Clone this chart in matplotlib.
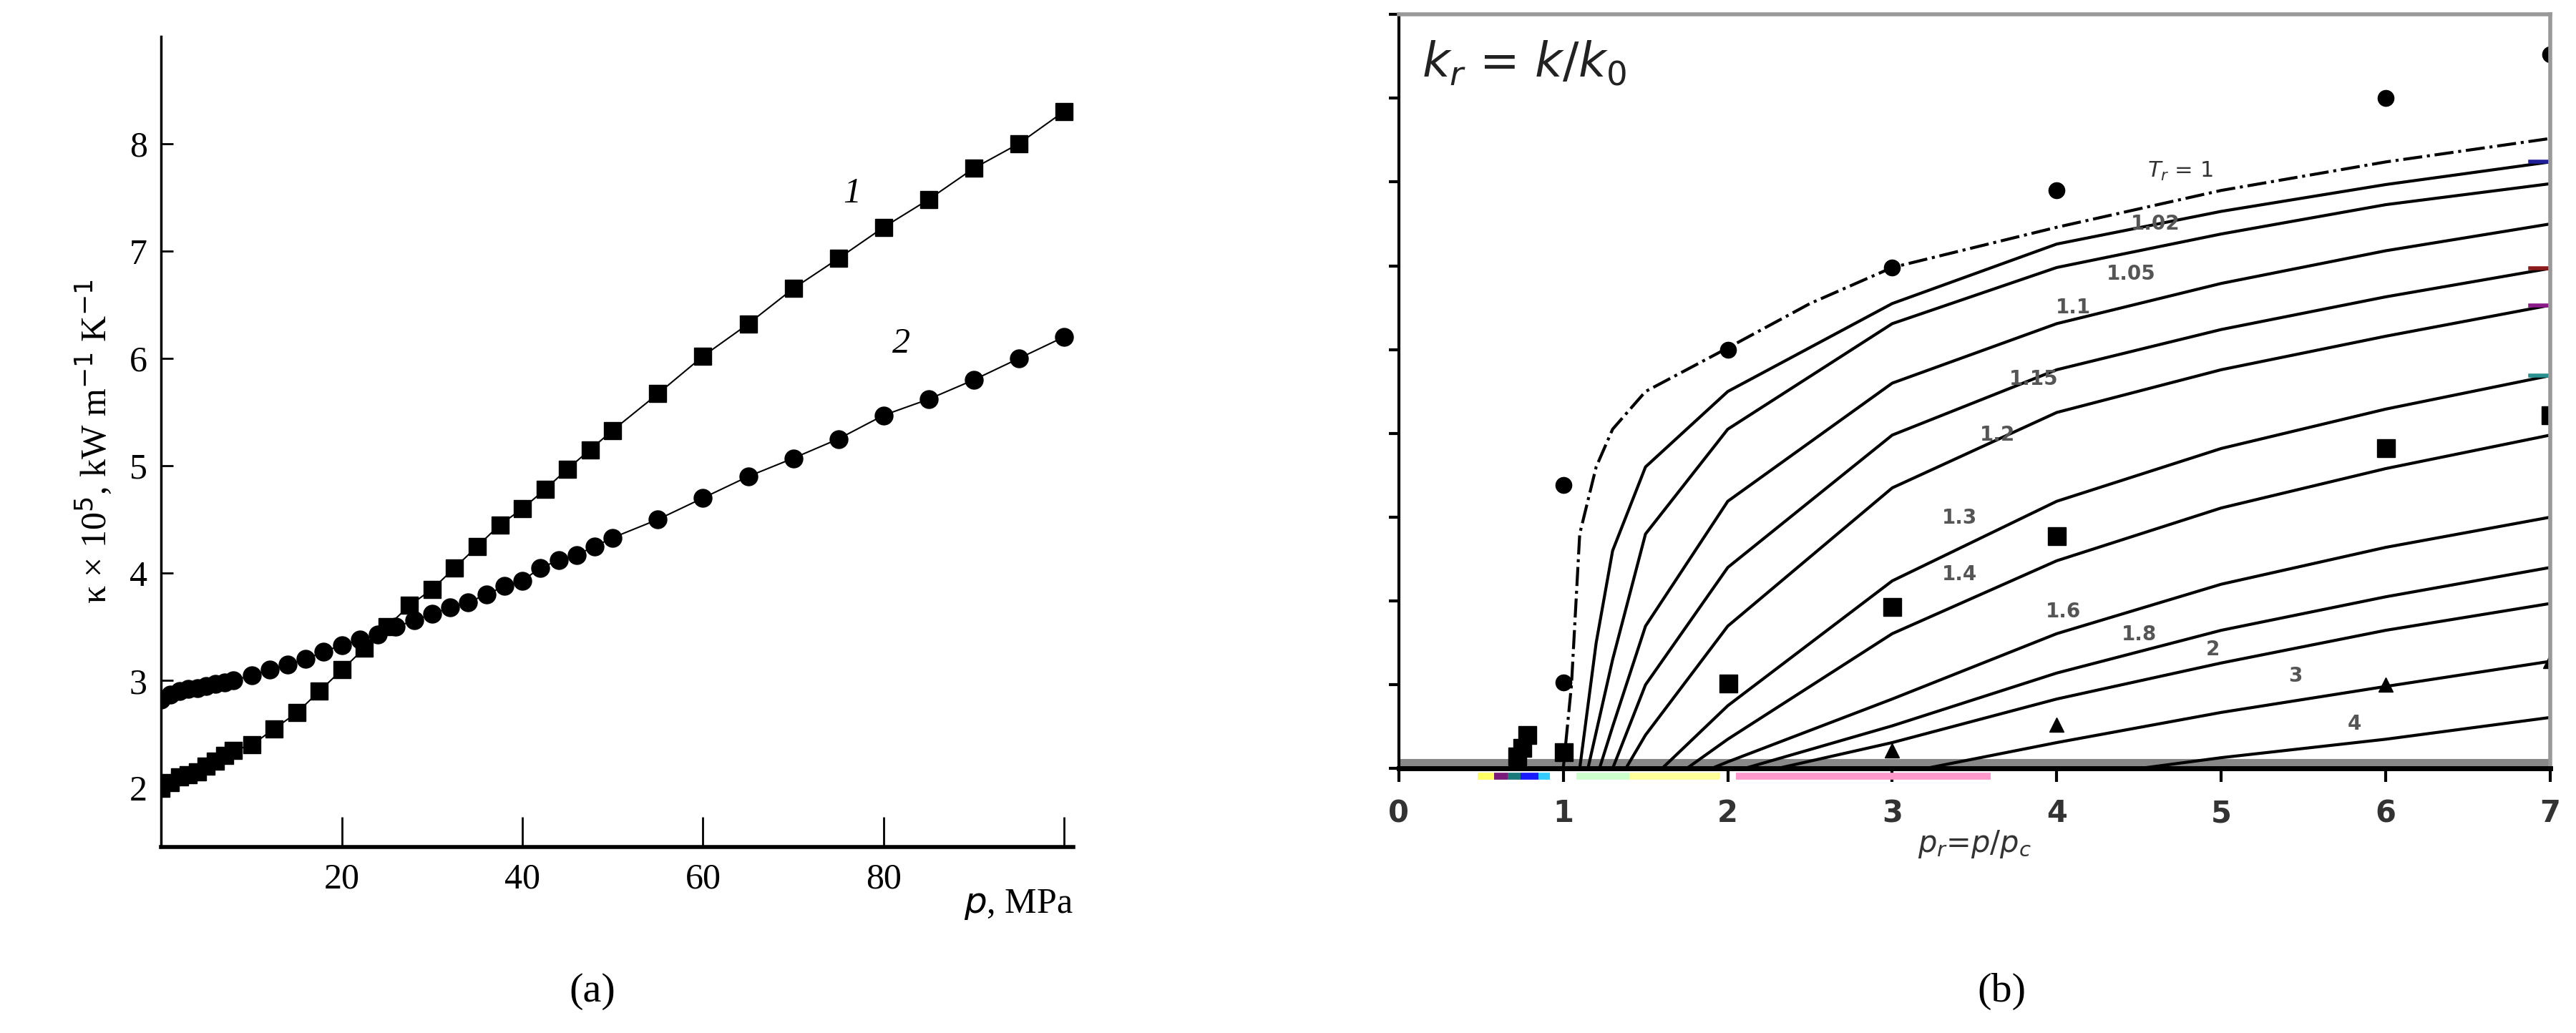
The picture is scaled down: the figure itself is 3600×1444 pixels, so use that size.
import matplotlib
matplotlib.use("Agg")
import matplotlib.pyplot as plt

# ---------- panel (a) data ----------
sq_p = [0,1,2,3,4,5,6,7,8,10,12.5,15,17.5,20,22.5,25,27.5,30,32.5,35,37.5,40,42.5,45,47.5,50,55,60,65,70,75,80,85,90,95,100]
sq_k = [2.0,2.05,2.1,2.12,2.15,2.2,2.25,2.3,2.35,2.4,2.55,2.7,2.9,3.1,3.3,3.5,3.7,3.85,4.05,4.25,4.45,4.6,4.78,4.97,5.15,5.33,5.67,6.02,6.32,6.65,6.93,7.22,7.48,7.77,8.0,8.3]
ci_p = [0,1,2,3,4,5,6,7,8,10,12,14,16,18,20,22,24,26,28,30,32,34,36,38,40,42,44,46,48,50,55,60,65,70,75,80,85,90,95,100]
ci_k = [2.82,2.87,2.9,2.92,2.93,2.95,2.97,2.98,3.0,3.05,3.1,3.15,3.2,3.27,3.33,3.38,3.43,3.5,3.56,3.62,3.68,3.73,3.8,3.88,3.93,4.05,4.12,4.17,4.25,4.33,4.5,4.7,4.9,5.07,5.25,5.47,5.62,5.8,6.0,6.2]
a_xticks = [20, 40, 60, 80, 100]
a_xticklabels = ["20", "40", "60", "80", ""]
a_yticks = [2, 3, 4, 5, 6, 7, 8]

# ---------- panel (b) data ----------
tr1_x = [0, 1.0, 1.05, 1.1, 1.2, 1.3, 1.5, 2, 2.5, 3, 4, 5, 6, 7]
tr1_y = [0, 0, 1.0, 2.8, 3.6, 4.05, 4.5, 5.02, 5.55, 5.98, 6.46, 6.9, 7.24, 7.52]
curve_labels = ["1.02", "1.05", "1.1", "1.15", "1.2", "1.3", "1.4", "1.6", "1.8", "2", "3", "4"]
curve_x = [
    [0, 1.1, 1.2, 1.3, 1.5, 2, 3, 4, 5, 6, 7],
    [0, 1.15, 1.3, 1.5, 2, 3, 4, 5, 6, 7],
    [0, 1.22, 1.3, 1.5, 2, 3, 4, 5, 6, 7],
    [0, 1.3, 1.5, 2, 3, 4, 5, 6, 7],
    [0, 1.38, 1.5, 2, 3, 4, 5, 6, 7],
    [0, 1.6, 2, 3, 4, 5, 6, 7],
    [0, 1.75, 2, 3, 4, 5, 6, 7],
    [0, 1.9, 2, 3, 4, 5, 6, 7],
    [0, 2.1, 3, 4, 5, 6, 7],
    [0, 2.3, 3, 4, 5, 6, 7],
    [0, 3.2, 4, 5, 6, 7],
    [0, 4.5, 5, 6, 7],
]
curve_y = [
    [0, 0, 1.5, 2.6, 3.6, 4.5, 5.55, 6.26, 6.65, 6.97, 7.24],
    [0, 0, 1.3, 2.8, 4.05, 5.31, 5.98, 6.38, 6.73, 6.98],
    [0, 0, 0.5, 1.7, 3.19, 4.6, 5.31, 5.79, 6.18, 6.5],
    [0, 0, 1.0, 2.4, 3.98, 4.76, 5.24, 5.63, 5.97],
    [0, 0, 0.4, 1.7, 3.35, 4.25, 4.76, 5.16, 5.53],
    [0, 0, 0.75, 2.24, 3.19, 3.82, 4.29, 4.69],
    [0, 0, 0.35, 1.61, 2.48, 3.11, 3.58, 3.98],
    [0, 0, 0.08, 0.83, 1.61, 2.2, 2.64, 3.0],
    [0, 0, 0.51, 1.14, 1.65, 2.05, 2.4],
    [0, 0, 0.31, 0.83, 1.26, 1.65, 1.97],
    [0, 0, 0.31, 0.67, 0.98, 1.28],
    [0, 0, 0.13, 0.35, 0.61],
]
end_colors = {0: "#1f1f9a", 3: "#8b1a1a", 4: "#8b1a8b", 5: "#2a9090"}
lab_x = [4.6, 4.45, 4.1, 3.86, 3.64, 3.41, 3.41, 4.04, 4.5, 4.95, 5.45, 5.81]
lab_y = [6.5, 5.9, 5.5, 4.65, 3.98, 2.99, 2.32, 1.87, 1.6, 1.42, 1.1, 0.53]
circ_x = [1, 1, 2, 3, 4, 6, 7]
circ_y = [3.38, 1.03, 5.0, 5.98, 6.9, 8.0, 8.52]
sqb_x = [0.72, 0.75, 0.78, 1.0, 2, 3, 4, 6, 7]
sqb_y = [0.15, 0.25, 0.4, 0.2, 1.02, 1.93, 2.78, 3.83, 4.22]
tri_x = [3, 4, 6, 7]
tri_y = [0.22, 0.52, 1.0, 1.28]
strip_x0 = [0.48, 0.58, 0.66, 0.74, 0.85, 1.08, 1.4, 2.05, 3.2]
strip_x1 = [0.58, 0.66, 0.74, 0.85, 0.92, 1.4, 1.95, 3.2, 3.6]
strip_c = ["#ffff66", "#7a1a7a", "#1a7a7a", "#1a1aff", "#33ccff", "#ccffcc", "#ffff99", "#ff99cc", "#ff99cc"]

serif = ["Liberation Serif", "DejaVu Serif"]
fig = plt.figure(figsize=(36, 14.44), dpi=100)

# ---------------- (a) ----------------
ax = fig.add_axes([0.0626, 0.18, 0.354, 0.785])
ax.plot(sq_p, sq_k, color="black", lw=1.5, marker="s", ms=17, ls="-")
ax.plot(ci_p, ci_k, color="black", lw=1.5, marker="o", ms=18, ls="-")
ax.set_xlim(0, 101)
ax.set_ylim(1.45, 9.0)
ax.spines["top"].set_visible(False)
ax.spines["right"].set_visible(False)
ax.spines["left"].set_linewidth(2.5)
ax.spines["bottom"].set_linewidth(4)
ax.set_xticks(a_xticks)
ax.set_xticklabels(a_xticklabels, fontfamily=serif, fontsize=36)
ax.set_yticks(a_yticks)
ax.set_yticklabels([str(v) for v in a_yticks], fontfamily=serif, fontsize=36)
ax.tick_params(axis="x", direction="in", length=30, width=2, pad=16)
ax.tick_params(axis="y", direction="in", length=12, width=2, pad=14)
ax.text(0.88, -0.05, "$\\it{p}$, MPa", transform=ax.transAxes, fontfamily=serif,
        fontsize=36, va="top", ha="left")
ax.set_ylabel("κ × 10$^5$, kW m$^{-1}$ K$^{-1}$", fontfamily=serif, fontsize=36, labelpad=16)
ax.text(75.5, 7.45, "1", fontfamily=serif, fontstyle="italic", fontsize=36)
ax.text(81, 6.05, "2", fontfamily=serif, fontstyle="italic", fontsize=36)
fig.text(0.23, 0.04, "(a)", fontfamily=serif, fontsize=42, ha="center", va="center")

# ---------------- (b) ----------------
bx = fig.add_axes([0.543, 0.256, 0.447, 0.73])
bx.plot(tr1_x, tr1_y, color="black", lw=3, ls="-.")
for i, (xs, ys) in enumerate(zip(curve_x, curve_y)):
    bx.plot(xs, ys, color="black", lw=3)
    if i in end_colors:
        bx.plot([6.88, 7.0], [ys[-1], ys[-1]], color=end_colors[i], lw=4)
for lx, ly, t in zip(lab_x, lab_y, curve_labels):
    bx.text(lx, ly, t, fontsize=20, color="#555555", fontweight="bold", ha="center", va="center")
bx.text(4.75, 7.13, "$T_r$ = 1", fontsize=22, color="#333333", ha="center", va="center")
bx.plot(circ_x, circ_y, ls="none", marker="o", color="black", ms=16)
bx.plot(sqb_x, sqb_y, ls="none", marker="s", color="black", ms=18)
bx.plot(tri_x, tri_y, ls="none", marker="^", color="black", ms=14)
bx.axhline(0.07, color="#888888", lw=8, zorder=1)
for x0, x1, c in zip(strip_x0, strip_x1, strip_c):
    bx.plot([x0, x1], [-0.09, -0.09], color=c, lw=7, clip_on=False, solid_capstyle="butt")
bx.set_xlim(0, 7)
bx.set_ylim(0, 9)
bx.set_xticks(range(8))
bx.set_xticklabels([str(v) for v in range(8)], fontsize=30, color="#333333", fontweight="bold")
bx.set_yticks(range(10))
bx.set_yticklabels([])
bx.tick_params(axis="y", direction="out", length=10, width=3)
bx.tick_params(axis="x", direction="out", length=14, width=3, pad=16)
bx.spines["left"].set_linewidth(3)
bx.spines["bottom"].set_linewidth(5)
for s in ("top", "right"):
    bx.spines[s].set_color("#999999")
    bx.spines[s].set_linewidth(4)
bx.text(0.02, 0.935, "$k_r$ = $k$/$k_0$", transform=bx.transAxes, fontsize=48,
        color="#222222", va="center")
bx.set_xlabel("$p_r$=$p$/$p_c$", fontsize=30, color="#333333", labelpad=0)
fig.text(0.777, 0.04, "(b)", fontfamily=serif, fontsize=42, ha="center", va="center")

fig.savefig("out.png", dpi=100)
